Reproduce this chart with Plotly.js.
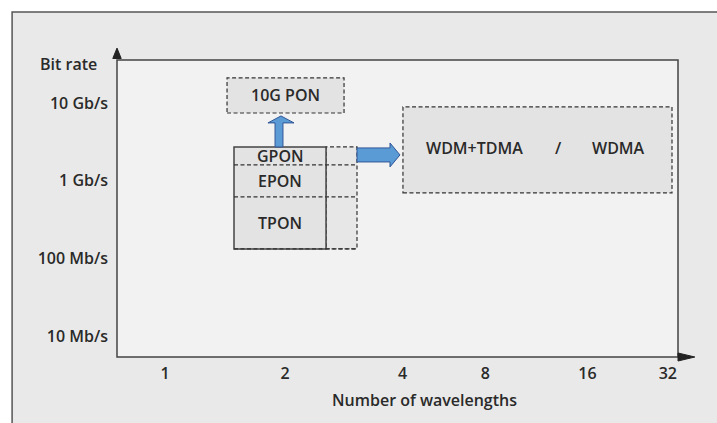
<!DOCTYPE html>
<html>
<head>
<meta charset="utf-8">
<script src="https://cdn.plot.ly/plotly-3.0.1.min.js"></script>
<style>html,body{margin:0;padding:0;background:#fff;}</style>
</head>
<body>
<div id="chart" style="width:717px;height:423px;"></div>
<script>
// ---- data (bit rate in Mb/s, wavelength axis in diagram units) ----
const rateTickVals = [10, 100, 1000, 10000];
const rateTickText = ["10 Mb/s", "100 Mb/s", "1 Gb/s", "10 Gb/s"];
const wavelengthTickText = ["1", "2", "4", "8", "16", "32"];
const wavelengthTickPos = [0, 1, 1.98, 2.67, 3.52, 4.19];

// TDM-PON stack (single-wavelength generation)
const tdmNames = ["GPON", "EPON", "TPON"];
const tdmRateTop = [2716, 1592, 617];
const tdmRateBottom = [1592, 617, 132];
const tdmX = [0.575, 1.342];
const tdmExtX = [1.342, 1.6];

// Next generation boxes
const nextNames = ["10G PON", "WDM+TDMA", "/", "WDMA"];
const tenGX = [0.517, 1.492];
const tenGRate = [7430, 21000];
const wdmX = [1.983, 4.225];
const wdmRate = [695, 8890];
const wdmLabelX = [2.58, 3.28, 3.78];

// arrows
const upArrowX = [0.917, 0.983, 0.858, 1.075];     // shaft l/r, head l/r
const upArrowRate = [2716, 5534, 6808];           // shaft bottom, head base, tip
const rightArrowX = [1.6, 1.875, 1.958];          // shaft start, head base, tip
const rightArrowRate = [1503, 1741, 2143, 2637, 3055];

const L = Math.log10;
const dashStyle = "4px,2.5px";
const boxFill = "#e3e3e3";
const txt = {family: "Open Sans, Noto Sans, sans-serif", size: 16, color: "#2a2a2a", weight: 600};
const txtBox = {family: "Open Sans, Noto Sans, sans-serif", size: 16, color: "#2a2a2a", weight: 600};

const shapes = [];
// outer frame
shapes.push({type: "rect", xref: "paper", yref: "paper", x0: -0.187, x1: 1.2, y0: -0.3, y1: 1.1616,
  fillcolor: "#e9e9e9", line: {color: "#555", width: 1.5}, layer: "below"});
// plot area
shapes.push({type: "rect", xref: "paper", yref: "paper", x0: 0, x1: 1, y0: 0, y1: 1,
  fillcolor: "#f2f2f2", line: {color: "#444", width: 1.5}, layer: "below"});
// axis arrows
shapes.push({type: "path", xref: "paper", yref: "paper",
  path: "M -0.0075 1.005 L 0.0075 1.005 L 0 1.04 Z", fillcolor: "#222", line: {color: "#222", width: 1}, layer: "below"});
shapes.push({type: "path", xref: "paper", yref: "paper",
  path: "M 1.0 0.0135 L 1.0 -0.0135 L 1.03 0 Z", fillcolor: "#222", line: {color: "#222", width: 1}, layer: "below"});

// 10G PON box
shapes.push({type: "rect", xref: "x", yref: "y", x0: tenGX[0], x1: tenGX[1], y0: tenGRate[0], y1: tenGRate[1],
  fillcolor: boxFill, line: {color: "#333", width: 1.2, dash: dashStyle}, layer: "below"});
// extension dashed box
shapes.push({type: "rect", xref: "x", yref: "y", x0: tdmExtX[0], x1: tdmExtX[1], y0: tdmRateBottom[2], y1: tdmRateTop[0],
  fillcolor: "#e7e7e7", line: {color: "#333", width: 1.2, dash: dashStyle}, layer: "below"});
// TDM stack solid box
shapes.push({type: "rect", xref: "x", yref: "y", x0: tdmX[0], x1: tdmX[1], y0: tdmRateBottom[2], y1: tdmRateTop[0],
  fillcolor: boxFill, line: {color: "#444", width: 1.5}, layer: "below"});
// dashed separators
[tdmRateBottom[0], tdmRateBottom[1], tdmRateBottom[2]].forEach(function (r) {
  shapes.push({type: "line", xref: "x", yref: "y", x0: tdmX[0], x1: tdmExtX[1], y0: r, y1: r,
    line: {color: "#333", width: 1.2, dash: dashStyle}, layer: "below"});
});
// WDM box
shapes.push({type: "rect", xref: "x", yref: "y", x0: wdmX[0], x1: wdmX[1], y0: wdmRate[0], y1: wdmRate[1],
  fillcolor: boxFill, line: {color: "#333", width: 1.2, dash: dashStyle}, layer: "below"});
// up arrow
shapes.push({type: "path", xref: "x", yref: "y",
  path: "M " + upArrowX[0] + " " + upArrowRate[0] + " L " + upArrowX[0] + " " + upArrowRate[1] +
        " L " + upArrowX[2] + " " + upArrowRate[1] + " L " + ((upArrowX[2] + upArrowX[3]) / 2) + " " + upArrowRate[2] +
        " L " + upArrowX[3] + " " + upArrowRate[1] + " L " + upArrowX[1] + " " + upArrowRate[1] +
        " L " + upArrowX[1] + " " + upArrowRate[0] + " Z",
  fillcolor: "#5b9bd5", line: {color: "#2f5597", width: 1}, layer: "below"});
// right arrow
shapes.push({type: "path", xref: "x", yref: "y",
  path: "M " + rightArrowX[0] + " " + rightArrowRate[1] + " L " + rightArrowX[1] + " " + rightArrowRate[1] +
        " L " + rightArrowX[1] + " " + rightArrowRate[0] + " L " + rightArrowX[2] + " " + rightArrowRate[2] +
        " L " + rightArrowX[1] + " " + rightArrowRate[4] + " L " + rightArrowX[1] + " " + rightArrowRate[3] +
        " L " + rightArrowX[0] + " " + rightArrowRate[3] + " Z",
  fillcolor: "#5b9bd5", line: {color: "#2f5597", width: 1}, layer: "below"});

const annotations = [];
const tdmCx = (tdmX[0] + tdmX[1]) / 2;
tdmNames.forEach(function (n, i) {
  annotations.push({x: tdmCx, y: (L(tdmRateTop[i]) + L(tdmRateBottom[i])) / 2, xref: "x", yref: "y",
    xanchor: "center", yanchor: "middle", text: n, showarrow: false, font: txtBox});
});
annotations.push({x: (tenGX[0] + tenGX[1]) / 2, y: (L(tenGRate[0]) + L(tenGRate[1])) / 2, xref: "x", yref: "y",
  xanchor: "center", yanchor: "middle", text: nextNames[0], showarrow: false, font: txtBox});
const wdmCy = (L(wdmRate[0]) + L(wdmRate[1])) / 2 + 0.03;
for (let i = 1; i < 4; i++) {
  annotations.push({x: wdmLabelX[i - 1], y: wdmCy, xref: "x", yref: "y", xanchor: "center", yanchor: "middle",
    text: nextNames[i], showarrow: false, font: txtBox});
}
annotations.push({x: -0.032, y: 0.9865, xref: "paper", yref: "paper", xanchor: "right", yanchor: "middle",
  text: "Bit rate", showarrow: false, font: txt});
annotations.push({x: 0.549, y: -0.145, xref: "paper", yref: "paper", xanchor: "center", yanchor: "middle",
  text: "Number of wavelengths", showarrow: false, font: txt});

const layout = {
  width: 717, height: 423, autosize: false,
  margin: {l: 117, r: 39, t: 60, b: 66, pad: 0},
  paper_bgcolor: "#ffffff", plot_bgcolor: "rgba(0,0,0,0)",
  showlegend: false,
  xaxis: {type: "linear", range: [-0.4, 4.275], tickvals: wavelengthTickPos, ticktext: wavelengthTickText,
    showgrid: false, zeroline: false, showline: false, ticks: "", ticklabelstandoff: 5, tickfont: txt, fixedrange: true},
  yaxis: {type: "log", range: [0.73, 4.553], tickvals: rateTickVals, ticktext: rateTickText,
    showgrid: false, zeroline: false, showline: false, ticks: "", ticklabelstandoff: 8, tickfont: txt, fixedrange: true},
  shapes: shapes,
  annotations: annotations
};

Plotly.newPlot("chart", [{type: "scatter", x: [], y: [], hoverinfo: "skip"}], layout, {displayModeBar: false, staticPlot: true});
</script>
</body>
</html>
